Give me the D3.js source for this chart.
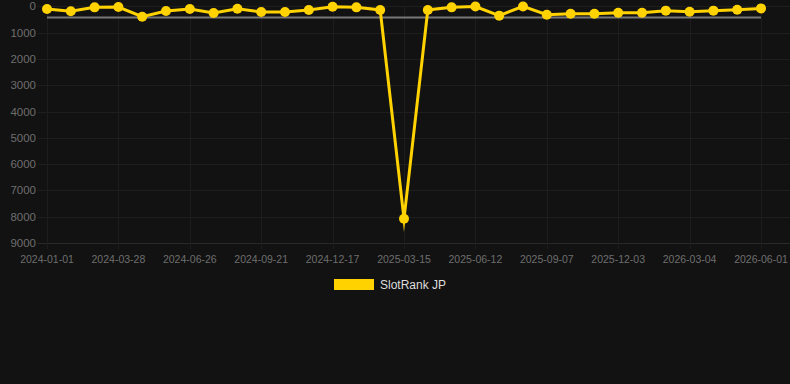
<!DOCTYPE html>
<html><head><meta charset="utf-8">
<script src="https://cdn.jsdelivr.net/npm/d3@7/dist/d3.min.js"></script>
<style>
html,body{margin:0;padding:0;background:#121212;}
svg{display:block;font-family:"Liberation Sans",Arial,Helvetica,sans-serif;}
</style></head>
<body>
<svg id="chart" width="790" height="384"></svg>
<script>
const dates = ["2024-01-01","2024-01-30","2024-02-28","2024-03-28","2024-04-28","2024-05-27","2024-06-26","2024-07-25","2024-08-23","2024-09-21","2024-10-20","2024-11-18","2024-12-17","2025-01-15","2025-02-13","2025-03-15","2025-04-14","2025-05-13","2025-06-12","2025-07-11","2025-08-09","2025-09-07","2025-10-06","2025-11-04","2025-12-03","2026-01-02","2026-02-02","2026-03-04","2026-04-02","2026-05-02","2026-06-01"];
const rankValues = [100,190,40,30,395,180,100,255,90,215,215,140,15,40,140,8080,140,40,10,355,5,320,280,280,245,245,165,205,165,130,80];
const averageValue = [425];
const yTicks = [0,1000,2000,3000,4000,5000,6000,7000,8000,9000];
const xTickLabels = ["2024-01-01","2024-03-28","2024-06-26","2024-09-21","2024-12-17","2025-03-15","2025-06-12","2025-09-07","2025-12-03","2026-03-04","2026-06-01"];
const seriesName = "SlotRank JP";

const svg = d3.select("#chart");
const plotLeft = 47, plotRight = 761, plotTop = 6.3, plotBottom = 243;
const x = d3.scalePoint().domain(dates).range([plotLeft, plotRight]);
const y = d3.scaleLinear().domain([0, 9000]).range([plotTop, plotBottom]);

// horizontal grid
svg.append("g").selectAll("line").data(yTicks).join("line")
  .attr("x1", 38).attr("x2", 790)
  .attr("y1", d => Math.round(y(d)) + 0.5).attr("y2", d => Math.round(y(d)) + 0.5)
  .attr("stroke", d => d === 9000 ? "#2a2a2a" : "#1e1e1e").attr("stroke-width", 1);

// vertical grid
svg.append("g").selectAll("line").data(xTickLabels).join("line")
  .attr("x1", d => Math.round(x(d)) + 0.5).attr("x2", d => Math.round(x(d)) + 0.5)
  .attr("y1", plotTop).attr("y2", plotBottom + 6)
  .attr("stroke", "#1d1d1d").attr("stroke-width", 1);

// y axis labels
svg.append("g").selectAll("text").data(yTicks).join("text")
  .attr("x", 36).attr("y", d => y(d)).attr("dy", "0.35em")
  .attr("text-anchor", "end").attr("font-size", 11.5).attr("fill", "#6e6e6e")
  .text(d => d);

// x axis labels
svg.append("g").selectAll("text").data(xTickLabels).join("text")
  .attr("x", d => x(d)).attr("y", 263)
  .attr("text-anchor", "middle").attr("font-size", 10.5).attr("fill", "#6e6e6e")
  .text(d => d);

// average line
svg.append("line")
  .attr("x1", x(dates[0])).attr("x2", x(dates[dates.length - 1]))
  .attr("y1", y(averageValue[0])).attr("y2", y(averageValue[0]))
  .attr("stroke", "#777").attr("stroke-width", 2);

// series line
const line = d3.line().x((d, i) => x(dates[i])).y(d => y(d));
svg.append("path").datum(rankValues)
  .attr("d", line).attr("fill", "none")
  .attr("stroke", "#FFD200").attr("stroke-width", 3)
  .attr("stroke-linejoin", "miter").attr("stroke-miterlimit", 12);

svg.append("g").selectAll("circle").data(rankValues).join("circle")
  .attr("cx", (d, i) => x(dates[i])).attr("cy", d => y(d)).attr("r", 5)
  .attr("fill", "#FFD200");

// legend
svg.append("rect").attr("x", 334).attr("y", 279).attr("width", 40).attr("height", 11).attr("fill", "#FFD200");
svg.append("text").attr("x", 380).attr("y", 289).attr("font-size", 12).attr("fill", "#dddddd").text(seriesName);
</script>
</body></html>
